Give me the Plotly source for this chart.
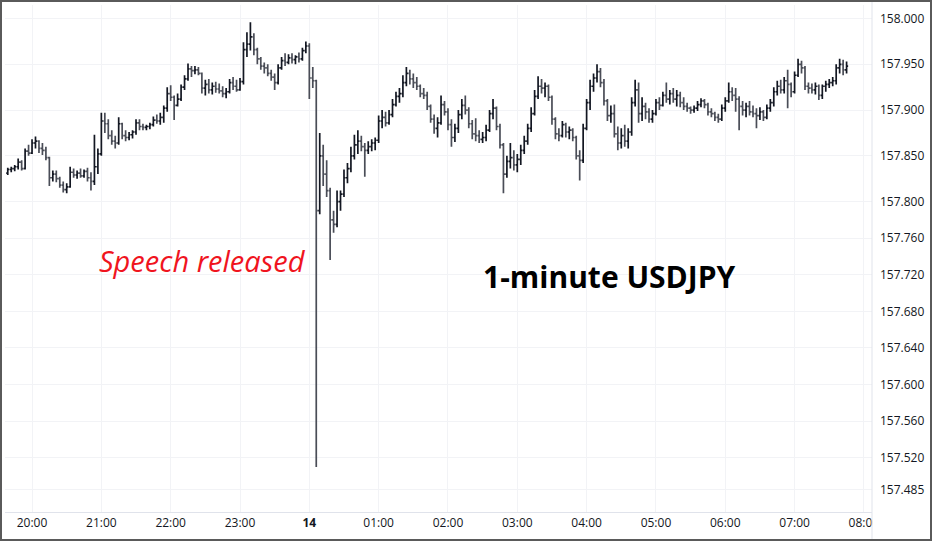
import pandas as pd
import plotly.graph_objects as go

# ---- data (prices = 157 + value/1000), 3-minute bars ----
BASE = 157.0
start_time = "2025-01-13 19:39"
bar_minutes = 3
first_open = 831

highs = [
    837, 838, 840, 847, 845, 858, 862, 868, 871, 867,
    864, 860, 849, 834, 834, 827, 822, 820, 838, 836,
    834, 836, 835, 837, 832, 873, 858, 897, 897, 890,
    878, 872, 892, 886, 878, 876, 878, 890, 890, 885,
    884, 886, 893, 895, 897, 905, 925, 927, 916, 918,
    928, 938, 951, 948, 948, 947, 941, 933, 934, 930,
    931, 929, 926, 924, 934, 936, 933, 935, 974, 985,
    996, 984, 968, 958, 952, 950, 944, 940, 950, 958,
    962, 961, 962, 960, 963, 968, 975, 973, 947, 933,
    875, 862, 845, 815, 790, 812, 812, 835, 842, 860,
    873, 878, 872, 864, 866, 868, 870, 894, 900, 898,
    900, 912, 920, 924, 938, 947, 944, 940, 936, 928,
    924, 920, 906, 895, 892, 916, 910, 902, 890, 885,
    900, 912, 916, 903, 889, 891, 878, 876, 884, 900,
    912, 904, 885, 864, 850, 864, 856, 852, 862, 872,
    885, 903, 922, 937, 934, 930, 928, 916, 892, 880,
    888, 886, 882, 880, 872, 856, 885, 912, 933, 940,
    950, 946, 934, 912, 905, 906, 882, 880, 884, 880,
    914, 933, 930, 914, 908, 902, 900, 912, 914, 920,
    930, 922, 924, 922, 920, 914, 908, 904, 905, 910,
    913, 912, 908, 902, 898, 896, 906, 914, 930, 925,
    924, 915, 910, 908, 910, 905, 902, 903, 900, 906,
    912, 925, 932, 933, 936, 944, 930, 942, 956, 954,
    948, 930, 929, 930, 928, 928, 932, 934, 936, 950,
    956, 955, 953,
]

lows = [
    829, 832, 833, 835, 834, 835, 850, 852, 858, 853,
    851, 845, 817, 822, 821, 815, 810, 809, 815, 826,
    825, 826, 826, 822, 812, 818, 830, 850, 875, 868,
    862, 858, 862, 868, 866, 867, 869, 873, 878, 878,
    878, 879, 882, 885, 884, 886, 898, 910, 889, 904,
    910, 922, 932, 936, 939, 938, 918, 916, 918, 917,
    919, 918, 914, 913, 918, 922, 920, 921, 928, 958,
    965, 960, 950, 944, 940, 937, 932, 922, 928, 944,
    948, 950, 951, 950, 952, 954, 962, 912, 924, 510,
    786, 817, 805, 736, 766, 772, 790, 805, 820, 832,
    846, 852, 855, 827, 852, 855, 856, 864, 880, 882,
    884, 892, 904, 908, 914, 926, 928, 924, 922, 914,
    912, 900, 886, 874, 870, 884, 894, 878, 860, 865,
    875, 890, 895, 880, 868, 866, 864, 864, 866, 876,
    890, 878, 858, 809, 826, 836, 834, 832, 840, 852,
    862, 876, 894, 912, 918, 914, 910, 884, 868, 866,
    870, 870, 868, 866, 846, 823, 842, 878, 900, 920,
    930, 925, 905, 888, 886, 870, 856, 858, 860, 858,
    872, 904, 886, 888, 890, 886, 886, 894, 900, 904,
    908, 906, 908, 904, 903, 900, 898, 896, 897, 899,
    903, 902, 894, 892, 888, 886, 888, 898, 908, 910,
    898, 878, 894, 892, 894, 892, 880, 889, 888, 890,
    898, 904, 916, 918, 918, 902, 914, 918, 936, 940,
    922, 918, 918, 917, 911, 912, 920, 924, 926, 928,
    940, 938, 940,
]

closes = [
    835, 836, 838, 843, 836, 855, 853, 864, 866, 858,
    856, 848, 826, 830, 825, 818, 813, 816, 832, 829,
    831, 828, 833, 826, 822, 838, 852, 888, 885, 872,
    866, 864, 885, 872, 870, 873, 876, 886, 882, 881,
    882, 884, 889, 888, 892, 902, 918, 914, 905, 912,
    925, 934, 945, 943, 944, 940, 924, 928, 922, 926,
    923, 921, 918, 920, 930, 926, 922, 931, 966, 972,
    980, 966, 956, 948, 946, 940, 936, 930, 946, 954,
    952, 957, 955, 958, 956, 965, 970, 935, 932, 790,
    850, 830, 812, 780, 775, 800, 808, 826, 836, 850,
    862, 866, 860, 856, 860, 864, 867, 888, 892, 886,
    895, 906, 915, 918, 930, 940, 934, 930, 926, 918,
    916, 904, 890, 880, 886, 906, 898, 884, 870, 880,
    895, 905, 900, 885, 874, 872, 868, 870, 878, 896,
    902, 882, 862, 830, 844, 848, 840, 846, 856, 866,
    880, 896, 915, 926, 924, 926, 914, 890, 874, 872,
    884, 876, 878, 870, 850, 845, 880, 908, 926, 935,
    942, 930, 910, 894, 896, 874, 864, 872, 866, 876,
    908, 922, 896, 904, 898, 890, 896, 908, 905, 916,
    912, 918, 912, 916, 908, 904, 902, 900, 902, 906,
    910, 906, 898, 896, 892, 890, 902, 910, 920, 916,
    912, 904, 900, 904, 898, 896, 894, 898, 892, 902,
    908, 920, 926, 922, 932, 928, 920, 938, 950, 946,
    926, 924, 922, 926, 916, 926, 928, 930, 932, 946,
    950, 944, 948,
]

y_tick_values = [158.000, 157.950, 157.900, 157.850, 157.800, 157.760, 157.720,
                 157.680, 157.640, 157.600, 157.560, 157.520, 157.485]
x_tick_times = ["2025-01-13 20:00", "2025-01-13 21:00", "2025-01-13 22:00",
                "2025-01-13 23:00", "2025-01-14 00:00", "2025-01-14 01:00",
                "2025-01-14 02:00", "2025-01-14 03:00", "2025-01-14 04:00",
                "2025-01-14 05:00", "2025-01-14 06:00", "2025-01-14 07:00",
                "2025-01-14 08:00"]
x_tick_labels = ["20:00", "21:00", "22:00", "23:00", "<b>14</b>", "01:00", "02:00",
                 "03:00", "04:00", "05:00", "06:00", "07:00", "08:00"]

# ---- build OHLC table ----
times = pd.date_range(start_time, periods=len(closes), freq=f"{bar_minutes}min")
c = [BASE + v / 1000 for v in closes]
h = [BASE + v / 1000 for v in highs]
l = [BASE + v / 1000 for v in lows]
o = [BASE + first_open / 1000] + c[:-1]

fig = go.Figure(go.Ohlc(
    x=times, open=o, high=h, low=l, close=c,
    increasing=dict(line=dict(color="#131722", width=1.7)),
    decreasing=dict(line=dict(color="#4a4d57", width=1.7)),
    tickwidth=0.45, hoverinfo="skip", showlegend=False,
))

W, H = 932, 541
ML, MR, MT, MB = 5, 60, 5, 29
PW, PH = W - ML - MR, H - MT - MB


def px(xp):
    return (xp - ML) / PW


def py(yp):
    return (H - MB - yp) / PH


grid = "#f2f3f6"
axis_font = dict(family="Open Sans", size=12, color="#131722")

fig.update_layout(
    width=W, height=H,
    margin=dict(l=ML, r=MR, t=MT, b=MB, pad=0),
    paper_bgcolor="white", plot_bgcolor="white",
    showlegend=False,
    xaxis=dict(
        type="date", range=["2025-01-13 19:36:36", "2025-01-14 08:07:00"],
        tickmode="array", tickvals=x_tick_times, ticktext=x_tick_labels,
        showgrid=True, gridcolor=grid, gridwidth=1, zeroline=False,
        ticks="", showline=True, linecolor="#e0e3eb", linewidth=1,
        tickfont=axis_font, rangeslider=dict(visible=False), fixedrange=True,
        automargin=False,
    ),
    yaxis=dict(
        side="right", range=[157.4607, 158.0148],
        tickmode="array", tickvals=y_tick_values,
        ticktext=[f"{v:.3f}" for v in y_tick_values],
        showgrid=True, gridcolor=grid, gridwidth=1, zeroline=False,
        ticks="", showline=False, tickfont=axis_font, fixedrange=True,
        ticklabelstandoff=7, automargin=False,
    ),
    shapes=[
        # hide overflow of the last time label into the price-scale area
        dict(type="rect", xref="paper", yref="paper", layer="above",
             x0=px(872.5), x1=px(930), y0=py(539), y1=py(513),
             fillcolor="white", line=dict(width=0)),
        # price-scale separator
        dict(type="line", xref="paper", yref="paper", layer="above",
             x0=px(872), x1=px(872), y0=py(540), y1=py(1),
             line=dict(color="#e0e3eb", width=1)),
        # outer frame
        dict(type="rect", xref="paper", yref="paper", layer="above",
             x0=px(1), x1=px(931), y0=py(540), y1=py(1),
             line=dict(color="#5a5a5a", width=2)),
    ],
    annotations=[
        dict(text="Speech released", xref="paper", yref="paper",
             x=px(202), y=py(260), xanchor="center", yanchor="middle",
             showarrow=False,
             font=dict(family="Open Sans", size=29, color="#f0141e", style="italic")),
        dict(text="<b>1-minute USDJPY</b>", xref="paper", yref="paper",
             x=px(609), y=py(276), xanchor="center", yanchor="middle",
             showarrow=False,
             font=dict(family="Open Sans", size=30, color="#000000")),
    ],
)

fig.write_html(
    "out.html",
    config={"displayModeBar": False},
    post_script="document.body.style.margin='0';document.body.style.overflow='hidden';",
)
